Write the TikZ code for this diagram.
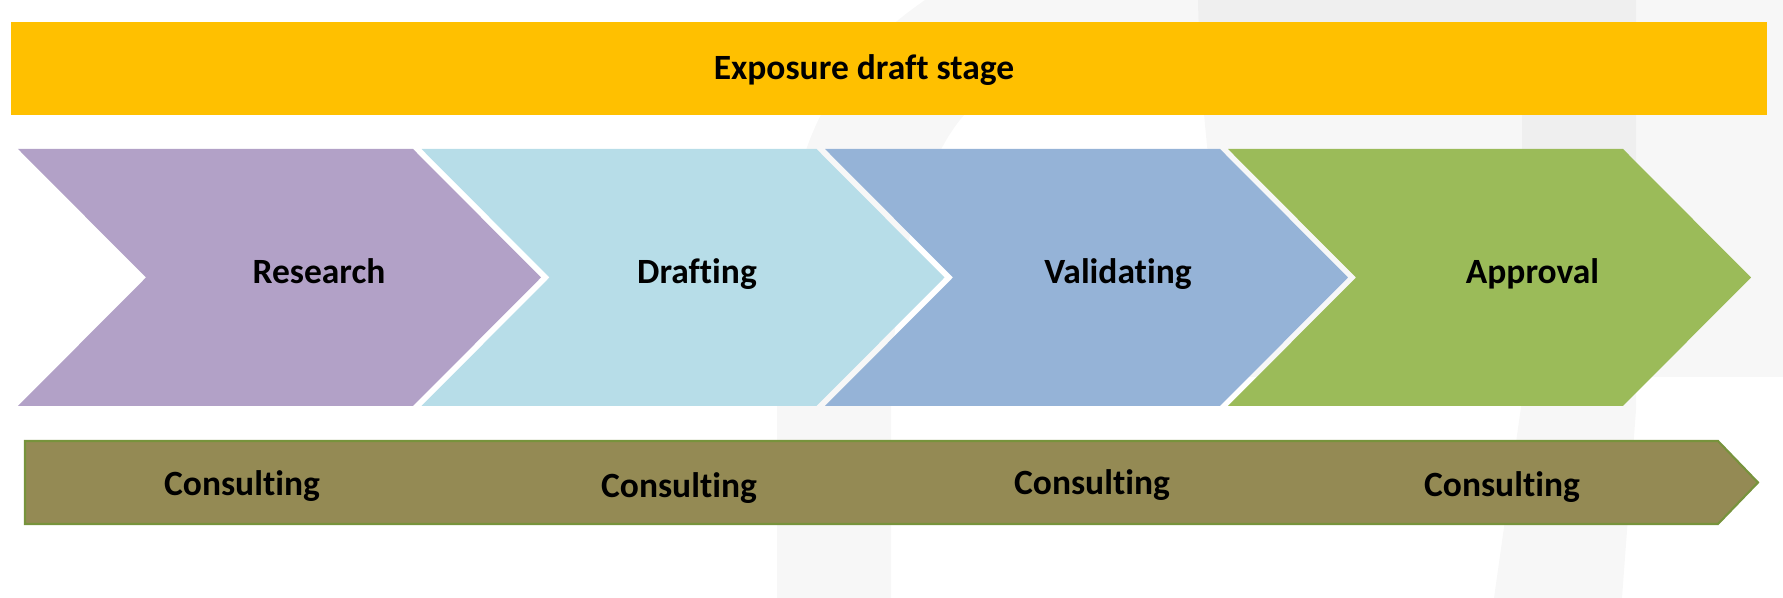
\documentclass[tikz,border=0pt]{standalone}
\usepackage{fontspec}
\setmainfont{Carlito}[Ligatures=NoCommon]
\definecolor{draftyellow}{HTML}{FFC000}
\definecolor{chevpurple}{HTML}{B2A1C7}
\definecolor{chevlightblue}{HTML}{B7DDE8}
\definecolor{chevblue}{HTML}{95B3D7}
\definecolor{chevgreen}{HTML}{9BBB59}
\definecolor{consultolive}{HTML}{948A54}
\definecolor{consultedge}{HTML}{77933C}

\begin{document}
\begin{tikzpicture}[watermark/.style={fill=black, fill opacity=0.03},banner/.style={fill=draftyellow},chevron/.style={draw=none},consultbar/.style={fill=consultolive, draw=consultedge, line width=0.6pt, line join=miter},stagelabel/.style={font=\fontsize{10.1}{12}\selectfont\bfseries, anchor=base, inner sep=0pt},consultlabel/.style={font=\fontsize{10.1}{12}\selectfont\bfseries, anchor=base, inner sep=0pt}]
\useasboundingbox (0,0) rectangle (17.83,5.98);
% faint logo in the background
\fill[watermark] (7.77,0) -- (7.77,1.78) .. controls (7.77,3.98) and (7.95,5.08) .. (9.25,5.98) -- (16.36,5.98) -- (16.36,1.88) -- (16.22,0) -- (14.94,0) -- (15.22,1.98) -- (15.22,5.38) -- (10.50,5.38) .. controls (10.00,5.23) and (9.70,4.98) .. (9.64,4.83) .. controls (9.25,4.38) and (8.91,3.38) .. (8.91,1.78) -- (8.91,0) -- cycle;
\fill[watermark] (11.98,5.98) .. controls (12.00,4.98) and (12.10,3.98) .. (12.40,2.21) -- (17.83,2.21) -- (17.83,5.98) -- cycle;
% top banner
\fill[banner] (0.11,4.83) rectangle (17.67,5.76);
\node[stagelabel] (draftstage) at (8.64,5.18) {Exposure draft stage};
% the four steps
\foreach \lx/\col/\txt/\tx [count=\i] in {0.18/chevpurple/Research/3.19, 4.215/chevlightblue/Drafting/6.97, 8.25/chevblue/Validating/11.18, 12.28/chevgreen/Approval/15.325} {\fill[\col, chevron] (\lx,4.49) -- ++(3.95,0) -- ++(1.28,-1.285) -- ++(-1.28,-1.285) -- ++(-3.95,0) -- ++(1.28,1.285) -- cycle;\node[stagelabel] (step\i) at (\tx,3.14) {\txt};}
% consulting arrow
\draw[consultbar] (0.25,1.57) -- (17.18,1.57) -- (17.58,1.155) -- (17.18,0.74) -- (0.25,0.74) -- cycle;
\foreach \cx/\cy [count=\j] in {2.42/1.02, 6.79/1.005, 10.92/1.03, 15.02/1.013} {\node[consultlabel] (consult\j) at (\cx,\cy) {Consulting};}
\end{tikzpicture}
\end{document}
